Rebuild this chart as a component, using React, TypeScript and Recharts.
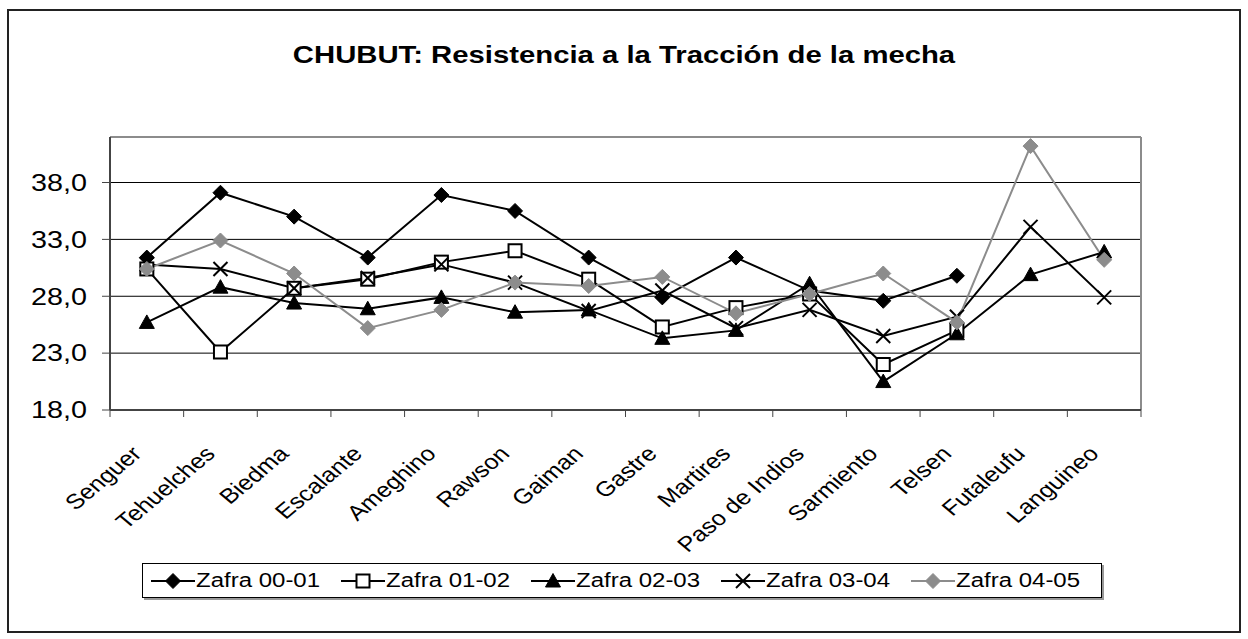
import React from "react";
import { LineChart, Line, XAxis, YAxis, CartesianGrid, ReferenceLine } from "recharts";

const departamentos = [
  "Senguer",
  "Tehuelches",
  "Biedma",
  "Escalante",
  "Ameghino",
  "Rawson",
  "Gaiman",
  "Gastre",
  "Martires",
  "Paso de Indios",
  "Sarmiento",
  "Telsen",
  "Futaleufu",
  "Languineo",
];

const zafra0001 = [31.4, 37.1, 35.0, 31.4, 36.9, 35.5, 31.4, 27.9, 31.4, 28.5, 27.6, 29.8, null, null];
const zafra0102 = [30.4, 23.1, 28.7, 29.5, 31.0, 32.0, 29.5, 25.3, 27.0, 28.2, 22.0, 25.0, null, null];
const zafra0203 = [25.7, 28.8, 27.4, 26.9, 27.9, 26.6, 26.8, 24.3, 25.0, 29.1, 20.5, 24.7, 29.9, 31.9];
const zafra0304 = [30.8, 30.4, 28.7, 29.6, 30.8, 29.2, 26.7, 28.5, 25.2, 26.8, 24.5, 26.2, 34.1, 27.9];
const zafra0405 = [30.4, 32.9, 30.0, 25.2, 26.8, 29.2, 28.9, 29.7, 26.5, 28.2, 30.0, 25.7, 41.2, 31.2];

const yTicks = [18, 23, 28, 33, 38];
const yDomain = [18, 42];

// each category sits in the middle of its slot (Excel style)
const data = departamentos.map((name, i) => ({
  name,
  pos: i + 0.5,
  z1: zafra0001[i],
  z2: zafra0102[i],
  z3: zafra0203[i],
  z4: zafra0304[i],
  z5: zafra0405[i],
}));

const slotTicks = [...departamentos.map((_, i) => i), departamentos.length];

const FONT = "'Liberation Sans', Arial, sans-serif";
const GRAY = "#8c8c8c";
const AXIS = "#444";
const PLOT_W = 1031;
const HALF_STEP = PLOT_W / departamentos.length / 2;
const STRETCH = 1.2;

type Shape = "diamond" | "square" | "triangle" | "cross";

function Marker({ cx, cy, shape, color }: { cx: number; cy: number; shape: Shape; color: string }) {
  if (shape === "diamond") {
    const r = 7.5;
    return <polygon points={`${cx},${cy - r} ${cx + r},${cy} ${cx},${cy + r} ${cx - r},${cy}`} fill={color} stroke={color} strokeWidth={1} />;
  }
  if (shape === "square") {
    const h = 6.5;
    return <rect x={cx - h} y={cy - h} width={h * 2} height={h * 2} fill="#fff" stroke="#000" strokeWidth={2} />;
  }
  if (shape === "triangle") {
    const r = 7.5;
    return <polygon points={`${cx},${cy - r} ${cx + r},${cy + r * 0.8} ${cx - r},${cy + r * 0.8}`} fill={color} stroke={color} />;
  }
  const r = 7;
  return (
    <g stroke={color} strokeWidth={2}>
      <line x1={cx - r} y1={cy - r} x2={cx + r} y2={cy + r} />
      <line x1={cx - r} y1={cy + r} x2={cx + r} y2={cy - r} />
    </g>
  );
}

const makeDot = (shape: Shape, color: string) => (props: any) => {
  const { cx, cy, value, index } = props;
  if (value == null || cx == null || cy == null) return <g key={`${shape}-${index}`} />;
  return (
    <g key={`${shape}-${index}`}>
      <Marker cx={cx} cy={cy} shape={shape} color={color} />
    </g>
  );
};

const series: { key: string; name: string; shape: Shape; color: string }[] = [
  { key: "z1", name: "Zafra 00-01", shape: "diamond", color: "#000" },
  { key: "z2", name: "Zafra 01-02", shape: "square", color: "#000" },
  { key: "z3", name: "Zafra 02-03", shape: "triangle", color: "#000" },
  { key: "z4", name: "Zafra 03-04", shape: "cross", color: "#000" },
  { key: "z5", name: "Zafra 04-05", shape: "diamond", color: GRAY },
];

function SlotTick(props: any) {
  const { x, y, payload } = props;
  const label = departamentos[payload.value];
  return (
    <g>
      <line x1={x} y1={y} x2={x} y2={y + 7} stroke={AXIS} strokeWidth={1} />
      {label && (
        <g transform={`translate(${x + HALF_STEP - 4},${y + 45}) scale(${STRETCH},1) rotate(-45)`}>
          <text textAnchor="end" fontSize={21} fontFamily={FONT} fill="#000">
            {label}
          </text>
        </g>
      )}
    </g>
  );
}

function ValueTick(props: any) {
  const { x, y, payload } = props;
  return (
    <g>
      <line x1={x - 8} y1={y} x2={x} y2={y} stroke={AXIS} strokeWidth={1} />
      <g transform={`translate(${x - 23},${y}) scale(${STRETCH + 0.05},1)`}>
        <text textAnchor="end" dy="0.36em" fontSize={23} fontFamily={FONT} fill="#000">
          {Number(payload.value).toFixed(1).replace(".", ",")}
        </text>
      </g>
    </g>
  );
}

function LegendBox() {
  return (
    <div
      style={{
        position: "absolute",
        left: 142,
        top: 563,
        width: 960,
        height: 35,
        border: "1px solid #000",
        boxShadow: "2px 2px 0 #999",
        background: "#fff",
        display: "flex",
        alignItems: "center",
        paddingLeft: 8,
        boxSizing: "border-box",
        fontFamily: FONT,
        fontSize: 20,
      }}
    >
      {series.map((s) => (
        <div key={s.key} style={{ display: "flex", alignItems: "center", width: 191 }}>
          <svg width={44} height={20}>
            <line x1={0} y1={10} x2={44} y2={10} stroke={s.color} strokeWidth={2} />
            <Marker cx={22} cy={10} shape={s.shape} color={s.color} />
          </svg>
          <span style={{ display: "inline-block", transform: `scaleX(${STRETCH})`, transformOrigin: "left center", marginLeft: 1 }}>
            {s.name}
          </span>
        </div>
      ))}
    </div>
  );
}

export default function App() {
  return (
    <div style={{ position: "absolute", left: 0, top: 0, width: 1248, height: 639, background: "#fff" }}>
      <div
        style={{
          position: "absolute",
          left: 7,
          top: 9,
          width: 1230,
          height: 620,
          border: "2px solid #222",
        }}
      />
      <div
        style={{
          position: "absolute",
          left: 0,
          width: 1248,
          top: 41,
          textAlign: "center",
          fontFamily: FONT,
          fontWeight: "bold",
          fontSize: 24,
          transform: `scaleX(${STRETCH + 0.02})`,
        }}
      >
        CHUBUT: Resistencia a la Tracción de la mecha
      </div>
      <div style={{ position: "absolute", left: 0, top: 0 }}>
        <LineChart width={1248} height={639} data={data} margin={{ top: 137, right: 107, left: 50, bottom: 0 }}>
          <CartesianGrid horizontal vertical={false} stroke="#000" strokeWidth={1} />
          <XAxis
            xAxisId={0}
            dataKey="pos"
            type="number"
            domain={[0, departamentos.length]}
            ticks={slotTicks}
            interval={0}
            height={229}
            tickSize={0}
            tickMargin={0}
            tickLine={false}
            axisLine={false}
            tick={<SlotTick />}
            allowDataOverflow
          />
          <YAxis
            domain={yDomain}
            ticks={yTicks}
            width={60}
            interval={0}
            allowDataOverflow
            tickSize={0}
            tickMargin={0}
            tickLine={false}
            axisLine={false}
            tick={<ValueTick />}
          />
          <ReferenceLine y={42} stroke={GRAY} strokeWidth={2} />
          <ReferenceLine x={departamentos.length} stroke={GRAY} strokeWidth={2} />
          <ReferenceLine y={18} stroke={AXIS} strokeWidth={2} />
          <ReferenceLine x={0} stroke={AXIS} strokeWidth={2} />
          {series.map((s) => (
            <Line
              key={s.key}
              dataKey={s.key}
              name={s.name}
              stroke={s.color}
              strokeWidth={2}
              dot={makeDot(s.shape, s.color)}
              activeDot={false}
              isAnimationActive={false}
              connectNulls={false}
            />
          ))}
        </LineChart>
      </div>
      <LegendBox />
    </div>
  );
}
